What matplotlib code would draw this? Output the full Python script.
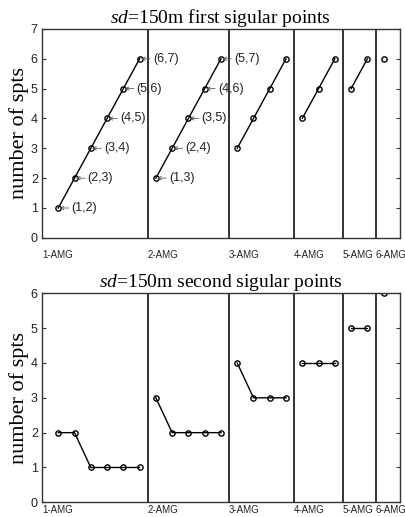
import matplotlib
matplotlib.use('Agg')
import matplotlib.pyplot as plt

plt.rcParams['font.family'] = 'Liberation Sans'
plt.rcParams['mathtext.fontset'] = 'custom'
plt.rcParams['mathtext.it'] = 'Liberation Serif:italic'
plt.rcParams['mathtext.rm'] = 'Liberation Serif'

# groups (AMG level) and their values
groups = ['1-AMG', '2-AMG', '3-AMG', '4-AMG', '5-AMG', '6-AMG']
first_spts = [
    [1, 2, 3, 4, 5, 6],
    [2, 3, 4, 5, 6],
    [3, 4, 5, 6],
    [4, 5, 6],
    [5, 6],
    [6],
]
second_spts = [
    [2, 2, 1, 1, 1, 1],
    [3, 2, 2, 2, 2],
    [4, 3, 3, 3],
    [4, 4, 4],
    [5, 5],
    [6],
]
first_labels = [
    ['(1,2)', '(2,3)', '(3,4)', '(4,5)', '(5,6)', '(6,7)'],
    ['(1,3)', '(2,4)', '(3,5)', '(4,6)', '(5,7)'],
]

fig = plt.figure(figsize=(4.06, 5.17), dpi=100)
ax1 = fig.add_axes([0.1034, 0.540, 0.8816, 0.404])
ax2 = fig.add_axes([0.1034, 0.0284, 0.8816, 0.4043])

sep_col = '#333333'


def draw(ax, data, ymax, title, pad, labels=None):
    x0 = 1
    seps = [0]
    for gi, vals in enumerate(data):
        xs = list(range(x0, x0 + len(vals)))
        ax.plot(xs, vals, '-o', color='black', lw=1, ms=3.8, mfc='none',
                mec='black', mew=1)
        if labels is not None and gi < len(labels):
            for x, y, t in zip(xs, vals, labels[gi]):
                ax.annotate(t, xy=(x, y), xytext=(9.5, 0), textcoords='offset points',
                            va='center', ha='left', fontsize=9, color='#222222',
                            arrowprops=dict(arrowstyle='->', lw=0.6, color='#555555',
                                            shrinkA=0, shrinkB=1, mutation_scale=6))
        x0 += len(vals)
        if gi < len(data) - 1:
            ax.axvline(x0 - 0.5, color=sep_col, lw=1.4)
            seps.append(x0 - 0.5)
    ax.set_xlim(0, 22)
    ax.set_ylim(0, ymax)
    ax.set_yticks(range(ymax + 1))
    ax.tick_params(axis='y', direction='in', length=3, right=True, labelsize=9,
                   color='#333333', labelcolor='#222222', pad=3)
    ax.set_xticks(seps)
    ax.set_xticklabels(groups, ha='left', fontsize=7, color='#222222')
    ax.tick_params(axis='x', length=0, pad=pad)
    for s in ax.spines.values():
        s.set_color('#333333')
        s.set_linewidth(1)
    ax.set_ylabel('number of spts', family='Liberation Serif', fontsize=16, labelpad=1)
    ax.set_title(title, family='Liberation Serif', fontsize=14, pad=2)


draw(ax1, first_spts, 7, r'$\mathit{sd}$=150m first sigular points', 9, first_labels)
draw(ax2, second_spts, 6, r'$\mathit{sd}$=150m second sigular points', 2)

fig.savefig('out.png', dpi=100)
